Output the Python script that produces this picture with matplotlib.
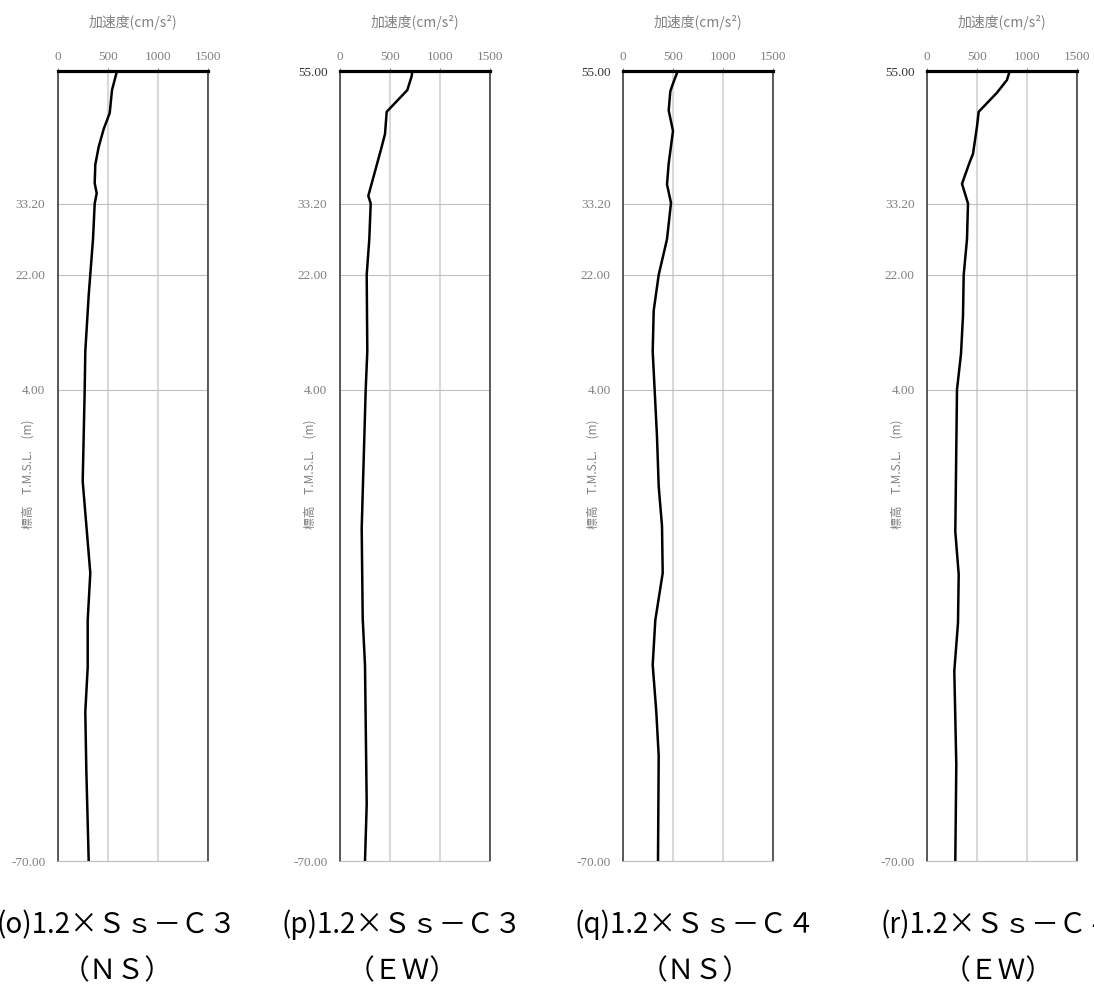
import numpy as np
import matplotlib.pyplot as plt

plt.rcParams['font.family'] = ['Noto Sans CJK JP', 'DejaVu Sans']

# elevation T.M.S.L. (m) / max acceleration (cm/s2)
elev_o = [54.0, 51.0, 47.4, 44.9, 42.1, 39.3, 36.4, 34.8, 33.2, 27.6, 18.8, 10.0,
          4.0, -10.4, -24.8, -32.2, -39.6, -46.6, -55.6, -70.0]
acc_o = [590, 540, 517, 457, 407, 373, 367, 387, 367, 350, 307, 273,
         267, 247, 323, 297, 297, 273, 283, 307]

elev_p = [54.0, 53.2, 51.0, 47.6, 44.1, 41.7, 34.4, 33.2, 27.6, 22.0, 10.0, 4.0,
          -17.8, -31.9, -39.3, -61.1, -70.0]
acc_p = [723, 717, 673, 467, 450, 410, 283, 307, 293, 267, 273, 257,
         217, 227, 250, 267, 250]

elev_q = [54.0, 51.6, 50.8, 47.8, 44.6, 39.5, 36.2, 33.3, 27.6, 22.0, 16.4, 10.0,
          -3.4, -11.2, -17.4, -24.8, -32.2, -39.2, -46.6, -53.5, -70.0]
acc_q = [547, 490, 473, 457, 500, 457, 440, 480, 440, 357, 307, 297,
         340, 357, 390, 397, 323, 297, 333, 357, 350]

elev_r = [54.0, 52.6, 50.6, 47.6, 45.3, 41.0, 39.7, 36.3, 33.2, 27.6, 22.0, 15.6,
          9.6, 4.0, -18.3, -25.0, -32.6, -40.2, -54.9, -70.0]
acc_r = [827, 800, 700, 517, 500, 460, 427, 350, 410, 400, 367, 360,
         340, 300, 283, 317, 310, 273, 293, 283]

captions = ['(o)1.2×Ｓｓ－Ｃ３', '(p)1.2×Ｓｓ－Ｃ３',
            '(q)1.2×Ｓｓ－Ｃ４', '(r)1.2×Ｓｓ－Ｃ４']
directions = ['（ＮＳ）', '（ＥＷ）', '（ＮＳ）', '（ＥＷ）']

x_ticks = [0, 500, 1000, 1500]
y_ticks = [-70, 4, 22, 33.2, 54]
y_labels = ['-70.00', '4.00', '22.00', '33.20', '55.00']

series = [(acc_o, elev_o), (acc_p, elev_p), (acc_q, elev_q), (acc_r, elev_r)]

W, H = 1094, 990
lefts = [58, 340, 623, 927]        # axes left edges, px
caption_x = [117, 402, 695, 998]   # caption centres, px
gray = '#808080'

fig = plt.figure(figsize=(W / 100, H / 100), dpi=100)

for i, (acc, elev) in enumerate(series):
    ax = fig.add_axes([lefts[i] / W, 1 - 861 / H, 150 / W, 790 / H])
    ax.plot(acc, elev, color='black', lw=1.8, solid_joinstyle='round')

    ax.set_xlim(0, 1500)
    ax.set_ylim(-70, 54)
    ax.xaxis.tick_top()
    ax.set_xticks(x_ticks)
    ax.set_xticklabels([str(t) for t in x_ticks])
    ax.set_yticks(y_ticks)
    labels = list(y_labels)
    if i == 0:
        labels[-1] = ''
    ax.set_yticklabels(labels)

    ax.tick_params(axis='x', length=2, color=gray, pad=4, labelsize=9.5,
                   labelcolor=gray, labelfontfamily='Liberation Serif')
    ax.tick_params(axis='y', length=0, pad=9, labelsize=9.5,
                   labelfontfamily='Liberation Serif')
    for lab in ax.get_yticklabels()[:-1]:
        lab.set_color(gray)
    ax.get_yticklabels()[-1].set_color('#333333')

    ax.set_axisbelow(True)
    ax.xaxis.grid(True, color='#d9d9d9', lw=1.5)
    ax.yaxis.grid(True, color='#c0c0c0', lw=0.8)

    ax.spines['top'].set_linewidth(2.3)
    ax.spines['top'].set_color('black')
    for side in ('left', 'right'):
        ax.spines[side].set_linewidth(1.2)
        ax.spines[side].set_color('#404040')
    ax.spines['bottom'].set_linewidth(0.8)
    ax.spines['bottom'].set_color('#bfbfbf')

    ax.text(-30 / 150, 0.489, '標高　T.M.S.L.　(m)', rotation=90,
            ha='center', va='center', color=gray, fontsize=8.5,
            transform=ax.transAxes)

    fig.text((lefts[i] + 75) / W, 1 - 23 / H, '加速度(cm/s²)', ha='center',
             va='center', color=gray, fontsize=10)
    fig.text(caption_x[i] / W, 1 - 925 / H, captions[i], ha='center',
             va='center', fontsize=20)
    fig.text(caption_x[i] / W, 1 - 971 / H, directions[i], ha='center',
             va='center', fontsize=20)

fig.savefig('out.png', dpi=100)
